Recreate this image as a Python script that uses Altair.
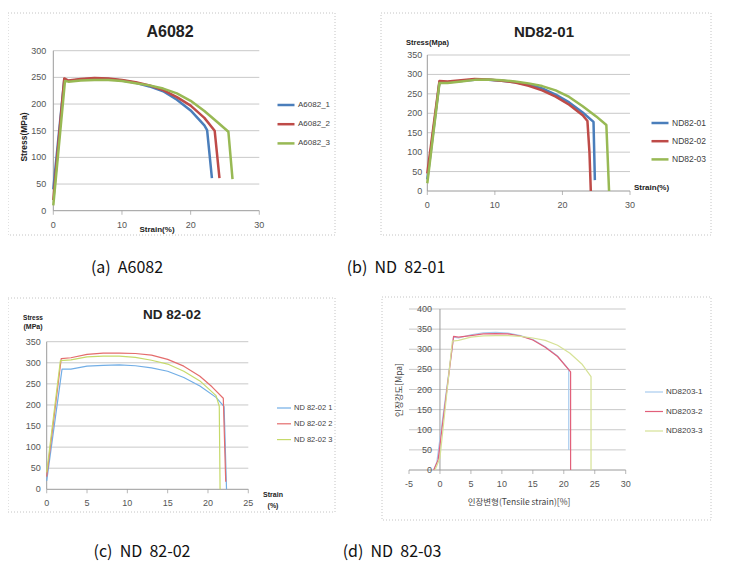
import altair as alt
import pandas as pd

FONT = "Liberation Sans"
KFONT = "Noto Sans CJK KR"
GRID = "#c9c9c9"
AXIS = "#9a9a9a"
LBL = "#555555"
NB = "\u00a0"

# ---------------- (a) A6082 ----------------
A_NAMES = ["A6082_1", "A6082_2", "A6082_3"]
A1_X = [0, 1.6, 2.2, 4, 6, 8, 10, 12, 14, 16, 18, 20, 22, 22.4, 23.1]
A1_Y = [40, 246, 243, 246, 248, 247, 244, 240, 233, 224, 208, 188, 160, 151, 61]
A2_X = [0, 1.6, 2.2, 4, 6, 8, 10, 12, 14, 16, 18, 20, 22, 23.5, 24.2]
A2_Y = [20, 248, 244, 247, 249, 248, 245, 241, 235, 226, 213, 197, 174, 150, 61]
A3_X = [0, 1.7, 2.2, 4, 6, 8, 10, 12, 14, 16, 18, 20, 22, 24, 25.5, 26.1]
A3_Y = [10, 243, 242, 244, 245, 245, 243, 239, 235, 229, 220, 206, 187, 165, 148, 59]
A_XTICKS = [0, 10, 20, 30]
A_YTICKS = [0, 50, 100, 150, 200, 250, 300]

# ---------------- (b) ND82-01 ----------------
B_NAMES = ["ND82-01", "ND82-02", "ND82-03"]
B1_X = [0, 1.8, 3, 5, 7, 9, 11, 13, 15, 17, 19, 21, 23, 24.6, 24.8]
B1_Y = [30, 280, 280, 283, 286, 286, 284, 280, 274, 264, 248, 228, 202, 178, 28]
B2_X = [0, 1.8, 3, 5, 7, 9, 11, 13, 15, 17, 19, 21, 23, 23.7, 24.0, 24.2]
B2_Y = [45, 283, 282, 285, 288, 287, 284, 279, 271, 259, 243, 222, 195, 180, 100, 0]
B3_X = [0, 1.8, 3, 5, 7, 9, 11, 13, 15, 17, 19, 21, 23, 25, 26.5, 26.9]
B3_Y = [20, 278, 278, 282, 286, 287, 285, 282, 277, 270, 259, 242, 218, 192, 170, 0]
B_XTICKS = [0, 10, 20, 30]
B_YTICKS = [0, 50, 100, 150, 200, 250, 300, 350]

# ---------------- (c) ND 82-02 ----------------
C_NAMES = ["ND 82-02 1", "ND 82-02 2", "ND 82-02 3"]
C1_X = [0, 1.9, 3, 5, 7, 9, 11, 13, 15, 17, 19, 21, 22.0, 22.3]
C1_Y = [20, 285, 285, 292, 294, 295, 293, 288, 280, 265, 245, 218, 196, 0]
C2_X = [0, 1.8, 3, 5, 7, 9, 11, 13, 15, 17, 19, 20.5, 21.9, 22.2]
C2_Y = [30, 310, 312, 320, 323, 323, 322, 318, 308, 292, 268, 243, 216, 18]
C3_X = [0, 1.7, 3, 5, 7, 9, 11, 13, 15, 17, 19, 21, 21.4, 21.5]
C3_Y = [40, 305, 307, 314, 316, 316, 313, 306, 297, 280, 257, 222, 197, 0]
C_XTICKS = [0, 5, 10, 15, 20, 25]
C_YTICKS = [0, 50, 100, 150, 200, 250, 300, 350]

# ---------------- (d) ND 82-03 ----------------
D_NAMES = ["ND8203-1", "ND8203-2", "ND8203-3"]
D1_X = [-1, -0.5, 2.2, 3, 5, 7, 9, 11, 13, 15, 17, 19, 20.8, 20.8]
D1_Y = [0, 20, 330, 328, 336, 341, 342, 340, 334, 324, 306, 283, 250, 50]
D2_X = [-1, -0.3, 2.2, 3, 5, 7, 9, 11, 13, 15, 17, 19, 21.1, 21.1]
D2_Y = [0, 25, 332, 330, 334, 338, 339, 338, 333, 323, 305, 282, 244, 0]
D3_X = [-0.8, 0, 2.0, 3, 5, 7, 9, 11, 13, 15, 17, 19, 21, 23, 24.4, 24.4]
D3_Y = [0, 30, 320, 322, 330, 333, 334, 334, 332, 328, 322, 310, 290, 262, 232, 0]
D_XTICKS = [-5, 0, 5, 10, 15, 20, 25, 30]
D_YTICKS = [0, 50, 100, 150, 200, 250, 300, 350, 400]


def series_df(names, xs_list, ys_list):
    rows = []
    for n, xs, ys in zip(names, xs_list, ys_list):
        for i, (x, y) in enumerate(zip(xs, ys)):
            rows.append({"s": n, "x": x, "y": y, "i": i})
    return pd.DataFrame(rows)


def panel(df, names, colors, lw, xdom, ydom, xr, yr, xticks, yticks, yaxis_x,
          ydx, leg):
    sx = alt.Scale(domain=xdom, range=xr, nice=False, zero=False)
    sy = alt.Scale(domain=ydom, range=yr, nice=False, zero=False)

    def X(f):
        return alt.X(f, type="quantitative", scale=sx, axis=None)

    def Y(f):
        return alt.Y(f, type="quantitative", scale=sy, axis=None)

    grid = pd.DataFrame({"y": [t for t in yticks if t > ydom[0]]})
    grid["x0"] = xdom[0]
    grid["x1"] = xdom[1]
    g = alt.Chart(grid).mark_rule(color=GRID, strokeWidth=1).encode(
        x=X("x0"), x2=alt.X2("x1"), y=Y("y"))

    xa = pd.DataFrame({"x0": [xdom[0]], "x1": [xdom[1]], "y": [ydom[0]]})
    xaxis = alt.Chart(xa).mark_rule(color=AXIS, strokeWidth=1).encode(
        x=X("x0"), x2=alt.X2("x1"), y=Y("y"))

    ya = pd.DataFrame({"x": [yaxis_x], "y0": [ydom[0]], "y1": [ydom[1]]})
    yaxis = alt.Chart(ya).mark_rule(color=AXIS, strokeWidth=1).encode(
        x=X("x"), y=Y("y0"), y2=alt.Y2("y1"))

    xt = pd.DataFrame({"x": xticks, "t": [str(v) for v in xticks]})
    xt["y"] = ydom[0]
    xtick = alt.Chart(xt).mark_tick(orient="vertical", size=4, thickness=1,
                                    yOffset=2, color=AXIS).encode(x=X("x"), y=Y("y"))
    xlab = alt.Chart(xt).mark_text(fontSize=9, dy=14, color=LBL, font=FONT).encode(
        x=X("x"), y=Y("y"), text="t:N")

    yt = pd.DataFrame({"y": yticks, "t": [str(v) for v in yticks]})
    yt["x"] = yaxis_x
    ylab = alt.Chart(yt).mark_text(fontSize=9, dx=ydx, align="right", baseline="middle",
                                   color=LBL, font=FONT).encode(
        x=X("x"), y=Y("y"), text="t:N")

    lines = alt.Chart(df).mark_line(strokeWidth=lw, strokeJoin="round").encode(
        x=X("x"), y=Y("y"),
        color=alt.Color("s:N", scale=alt.Scale(domain=names, range=colors),
                        legend=alt.Legend(orient="none", legendX=leg["x"], legendY=leg["y"],
                                          title=None, symbolType="stroke",
                                          symbolSize=leg["len"] ** 2,
                                          symbolStrokeWidth=lw, labelFontSize=leg["fs"],
                                          labelFont=FONT, labelColor="#404040",
                                          rowPadding=leg["gap"], padding=0,
                                          labelOffset=2)),
        order="i:Q")
    return [g, xaxis, yaxis, xtick, xlab, ylab, lines]


def text(t, x, y, size, bold=False, angle=0, font=FONT, color="#222222", align="center"):
    kw = dict(fontSize=size, font=font, color=color, align=align, baseline="middle")
    if bold:
        kw["fontWeight"] = "bold"
    if angle:
        kw["angle"] = angle
    return alt.Chart(pd.DataFrame({"t": [t]})).mark_text(**kw).encode(
        x=alt.value(x), y=alt.value(y), text="t:N")


def border(x0, y0, x1, y1):
    return alt.Chart(pd.DataFrame({"a": [0]})).mark_rect(
        fillOpacity=0, stroke="#c4c4c4", strokeWidth=1, strokeDash=[1, 2]).encode(
        x=alt.value(x0), x2=alt.value(x1), y=alt.value(y0), y2=alt.value(y1))


STRONG = ["#4a7ebb", "#be4b48", "#98b954"]
LIGHT_C = ["#72aee6", "#e46c6c", "#c6da6a"]
LIGHT_D = ["#a8ccee", "#e2607a", "#d6e296"]

layers = []
layers += [border(0, 5, 327, 227), border(373, 5, 703, 227),
           border(0, 290, 327, 504), border(374, 289, 703, 512)]

layers += panel(series_df(A_NAMES, [A1_X, A2_X, A3_X], [A1_Y, A2_Y, A3_Y]), A_NAMES, STRONG, 2.5,
                [0, 30], [0, 300], [45.3, 251.3], [202.7, 42.7], A_XTICKS, A_YTICKS, 0, -7,
                dict(x=268, y=87, len=17, fs=8, gap=4.2))
layers += panel(series_df(B_NAMES, [B1_X, B2_X, B3_X], [B1_Y, B2_Y, B3_Y]), B_NAMES, STRONG, 2.5,
                [0, 30], [0, 350], [419.3, 622], [183, 47], B_XTICKS, B_YTICKS, 0, -5,
                dict(x=642, y=105, len=17, fs=8.5, gap=3.2))
layers += panel(series_df(C_NAMES, [C1_X, C2_X, C3_X], [C1_Y, C2_Y, C3_Y]), C_NAMES, LIGHT_C, 1.2,
                [0, 25], [0, 350], [38.7, 240.3], [481.3, 333.7], C_XTICKS, C_YTICKS, 0, -6,
                dict(x=268, y=392, len=14, fs=7.5, gap=3.8))
layers += panel(series_df(D_NAMES, [D1_X, D2_X, D3_X], [D1_Y, D2_Y, D3_Y]), D_NAMES, LIGHT_D, 1.2,
                [-5, 30], [0, 400], [401, 617.7], [462, 301], D_XTICKS, D_YTICKS, 0, -8,
                dict(x=636, y=374, len=18, fs=8, gap=5.5))

# titles and axis titles
layers += [
    text("A6082", 162, 24, 16, bold=True),
    text("Stress(MPa)", 16, 129, 8.5, bold=True, angle=270),
    text("Strain(%)", 149, 222, 8, bold=True),
    text("ND82-01", 536, 24, 15, bold=True),
    text("Stress(Mpa)", 398, 35, 7.5, bold=True, align="left"),
    text("Strain(%)", 626, 180, 8, bold=True, align="left"),
    text("ND 82-02", 164, 307, 13.5, bold=True),
    text("Stress", 25, 310, 6.5, bold=True),
    text("(MPa)", 25, 319, 7, bold=True),
    text("Strain", 265, 487, 7, bold=True),
    text("(%)", 265, 498, 7, bold=True),
    text("인장강도[Mpa]", 391, 382, 8.5, angle=270, font=KFONT, color="#444444"),
    text("인장변형(Tensile strain)[%]", 511, 494, 8.5, font=KFONT, color="#444444"),
    text("(a)" + NB + NB + "A6082", 119, 260, 16, font=KFONT, color="#111111"),
    text("(b)" + NB + NB + "ND" + NB + NB + "82-01", 388, 260, 16, font=KFONT, color="#111111"),
    text("(c)" + NB + NB + "ND" + NB + NB + "82-02", 134, 544, 16, font=KFONT, color="#111111"),
    text("(d)" + NB + NB + "ND" + NB + NB + "82-03", 384, 544, 16, font=KFONT, color="#111111"),
]

chart = alt.layer(*layers).resolve_scale(
    x="independent", y="independent", color="independent"
).properties(width=713, height=560, autosize="none", padding=0
).configure_view(stroke=None)

chart.save("out.html", embed_options={"renderer": "svg", "actions": False})
